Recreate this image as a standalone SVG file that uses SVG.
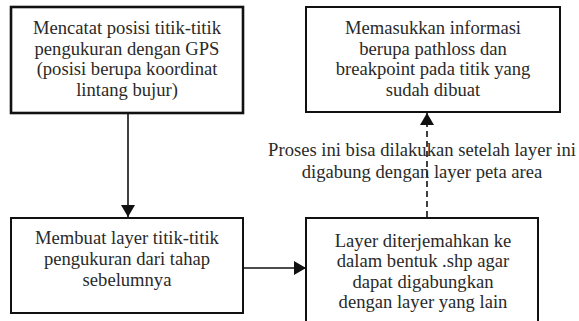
<svg xmlns="http://www.w3.org/2000/svg" width="579" height="321" viewBox="0 0 579 321">
<style>
.box{fill:#fff;stroke:#111;stroke-width:2}
.t{font-family:"Liberation Serif","Times New Roman",serif;font-size:18.6px;fill:#2a2a2a;text-anchor:middle}
.c{stroke:#111;stroke-width:1.6;fill:none}
</style>
<defs>
<marker id="ah" viewBox="0 0 12 14" refX="12" refY="7" markerWidth="12" markerHeight="14" markerUnits="userSpaceOnUse" orient="auto">
<path d="M0,0 L12,7 L0,14 Z" fill="#111"/>
</marker>
</defs>
<rect width="579" height="321" fill="#fff"/>
<g id="connectors">
<line class="c" x1="128" y1="113" x2="128" y2="217" marker-end="url(#ah)"/>
<line class="c" x1="243" y1="268" x2="306" y2="268" marker-end="url(#ah)"/>
<line class="c" x1="427" y1="217" x2="427" y2="113" stroke-dasharray="6,4" marker-end="url(#ah)"/>
</g>
<g id="n1">
<rect class="box" x="11" y="7" width="232" height="106" style="stroke-width:2.6"/>
<text class="t" x="127" y="34">Mencatat posisi titik-titik</text>
<text class="t" x="127" y="54.5">pengukuran dengan GPS</text>
<text class="t" x="127" y="75">(posisi berupa koordinat</text>
<text class="t" x="127" y="95.5">lintang bujur)</text>
</g>
<g id="n2">
<rect class="box" x="306" y="7" width="254" height="105"/>
<text class="t" x="433" y="34">Memasukkan informasi</text>
<text class="t" x="433" y="54.5">berupa pathloss dan</text>
<text class="t" x="433" y="75">breakpoint pada titik yang</text>
<text class="t" x="433" y="95.5">sudah dibuat</text>
</g>
<g id="n3">
<rect class="box" x="11" y="218" width="232" height="95"/>
<text class="t" x="127" y="244">Membuat layer titik-titik</text>
<text class="t" x="127" y="264.5">pengukuran dari tahap</text>
<text class="t" x="127" y="285.5">sebelumnya</text>
</g>
<g id="n4">
<rect class="box" x="306" y="218" width="232" height="110"/>
<text class="t" x="423" y="246.5">Layer diterjemahkan ke</text>
<text class="t" x="423" y="267">dalam bentuk .shp agar</text>
<text class="t" x="423" y="287.5">dapat digabungkan</text>
<text class="t" x="423" y="308">dengan layer yang lain</text>
</g>
<g id="label">
<text class="t" x="422" y="156">Proses ini bisa dilakukan setelah layer ini</text>
<text class="t" x="422" y="177.5">digabung dengan layer peta area</text>
</g>
</svg>
